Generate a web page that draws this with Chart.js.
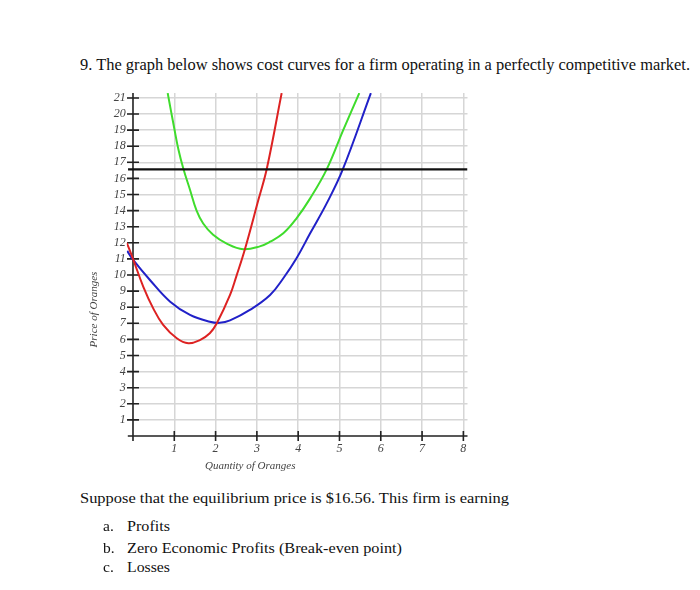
<!DOCTYPE html>
<html>
<head>
<meta charset="utf-8">
<script src="https://cdn.jsdelivr.net/npm/chart.js@4/dist/chart.umd.min.js"></script>
<style>
  body { margin: 0; background: #fff; width: 700px; height: 590px; position: relative; overflow: hidden; }
  .t { position: absolute; white-space: nowrap; font-family: "Liberation Serif", serif; color: #111; line-height: 1; transform-origin: left top; }
  .ax { position: absolute; white-space: nowrap; font-family: "Liberation Serif", serif; font-style: italic; font-size: 11px; color: #444; line-height: 1; }
  #chart { position: absolute; left: 80px; top: 80px; }
</style>
</head>
<body>
<div class="t" style="left:80px; top:57px; font-size:16.5px" data-w="610">9. The graph below shows cost curves for a firm operating in a perfectly competitive market.</div>

<canvas id="chart" width="400" height="400"></canvas>
<div class="ax" id="xTitle" style="left:205px; top:460px">Quantity of Oranges</div>
<div class="ax" id="yTitle" style="left:56px; top:304px; transform: rotate(-90deg); transform-origin: center;">Price of Oranges</div>

<div class="t" style="left:80px; top:490px; font-size:15.5px" data-w="429">Suppose that the equilibrium price is $16.56. This firm is earning</div>
<div class="t" style="left:103px; top:518px; font-size:15.5px">a.</div>
<div class="t" style="left:127px; top:518px; font-size:15.5px" data-w="43">Profits</div>
<div class="t" style="left:103px; top:539.5px; font-size:15.5px">b.</div>
<div class="t" style="left:127px; top:539.5px; font-size:15.5px" data-w="275">Zero Economic Profits (Break-even point)</div>
<div class="t" style="left:103px; top:559px; font-size:15.5px">c.</div>
<div class="t" style="left:127px; top:559px; font-size:15.5px" data-w="43">Losses</div>

<script>
// 数据
const mcQty   = [-0.15, 0, 0.25, 0.49, 0.73, 1.06, 1.34, 1.62, 1.86, 2.03, 2.35, 2.5, 2.71, 3.04, 3.24, 3.6];
const mcCost  = [12.0, 11.0, 9.27, 7.93, 6.9, 6.07, 5.76, 5.96, 6.38, 7.0, 8.76, 9.9, 11.6, 14.7, 16.6, 21.3];

const avcQty  = [-0.14, 0, 0.41, 0.9, 1.38, 1.86, 2.1, 2.35, 2.83, 3.32, 3.64, 3.96, 4.29, 4.69, 5.08, 5.76];
const avcCost = [11.5, 10.95, 9.69, 8.34, 7.52, 7.1, 7.03, 7.18, 7.83, 8.76, 9.8, 11.04, 12.59, 14.45, 16.56, 21.3];

const atcQty  = [0.84, 1.0, 1.1, 1.22, 1.38, 1.54, 1.7, 1.94, 2.27, 2.67, 3.07, 3.32, 3.64, 3.96, 4.29, 4.69, 5.09, 5.48];
const atcCost = [21.3, 19.1, 17.8, 16.6, 15.3, 14.0, 13.2, 12.5, 11.95, 11.6, 11.78, 12.07, 12.59, 13.52, 14.76, 16.56, 19.0, 21.3];

const price    = 16.56;
const priceQty = [-0.12, 8.1];

const xTicks = [1, 2, 3, 4, 5, 6, 7, 8];
const yTicks = [1, 2, 3, 4, 5, 6, 7, 8, 9, 10, 11, 12, 13, 14, 15, 16, 17, 18, 19, 20, 21];

const pts = (xs, ys) => xs.map((x, i) => ({ x: x, y: ys[i] }));

// 坐标轴 (在 0 处交叉, 刻度线穿过轴)
const crossAxes = {
    id: 'crossAxes',
    beforeDatasetsDraw(chart) {
        const { ctx, chartArea, scales: { x, y } } = chart;
        const x0 = x.getPixelForValue(0);
        const y0 = y.getPixelForValue(0);
        ctx.save();
        ctx.strokeStyle = '#222';
        ctx.lineWidth = 1.6;
        ctx.beginPath();
        ctx.moveTo(x0, y0 + 5);
        ctx.lineTo(x0, chartArea.top);
        ctx.moveTo(chartArea.left + 1, y0);
        ctx.lineTo(chartArea.right, y0);
        yTicks.forEach(v => {
            const p = y.getPixelForValue(v);
            ctx.moveTo(x0 - 6, p);
            ctx.lineTo(x0 + 6, p);
        });
        xTicks.forEach(v => {
            const p = x.getPixelForValue(v);
            ctx.moveTo(p, y0 - 5);
            ctx.lineTo(p, y0 + 5);
        });
        ctx.stroke();
        ctx.restore();
    }
};

const tickFont = { family: 'Liberation Serif', style: 'italic', size: 12 };

new Chart(document.getElementById('chart'), {
    type: 'line',
    data: {
        datasets: [
            { data: pts(priceQty, priceQty.map(() => price)), borderColor: '#111', borderWidth: 2.4, tension: 0 },
            { data: pts(mcQty, mcCost), borderColor: '#dd2222', borderWidth: 2, tension: 0.4 },
            { data: pts(atcQty, atcCost), borderColor: '#3fdc2c', borderWidth: 2, tension: 0.4 },
            { data: pts(avcQty, avcCost), borderColor: '#2121c8', borderWidth: 2, tension: 0.4 }
        ]
    },
    options: {
        responsive: false,
        animation: false,
        layout: { padding: { top: 13.1, right: 12.5, left: 0, bottom: 0 } },
        elements: {
            point: { radius: 0 }
        },
        plugins: { legend: { display: false }, tooltip: { enabled: false } },
        scales: {
            x: {
                type: 'linear',
                min: -0.15,
                max: 8.1,
                afterBuildTicks: s => { s.ticks = xTicks.map(v => ({ value: v })); },
                afterFit: s => { s.height = 44; },
                grid: { color: '#d6d6d6', lineWidth: 1.5, drawTicks: false },
                border: { display: false },
                ticks: { font: tickFont, color: '#444', padding: 6, maxRotation: 0, autoSkip: false }
            },
            y: {
                min: 0,
                max: 21.3,
                afterBuildTicks: s => { s.ticks = yTicks.map(v => ({ value: v })); },
                afterFit: s => { s.width = 46.8; },
                grid: { color: '#d6d6d6', lineWidth: 1.5, drawTicks: false },
                border: { display: false },
                ticks: { font: tickFont, color: '#444', padding: 1, autoSkip: false }
            }
        }
    },
    plugins: [crossAxes]
});

// 文字宽度对齐
document.querySelectorAll('.t[data-w]').forEach(el => {
    const w = el.getBoundingClientRect().width;
    el.style.transform = 'scaleX(' + (parseFloat(el.dataset.w) / w) + ')';
});
</script>
</body>
</html>
